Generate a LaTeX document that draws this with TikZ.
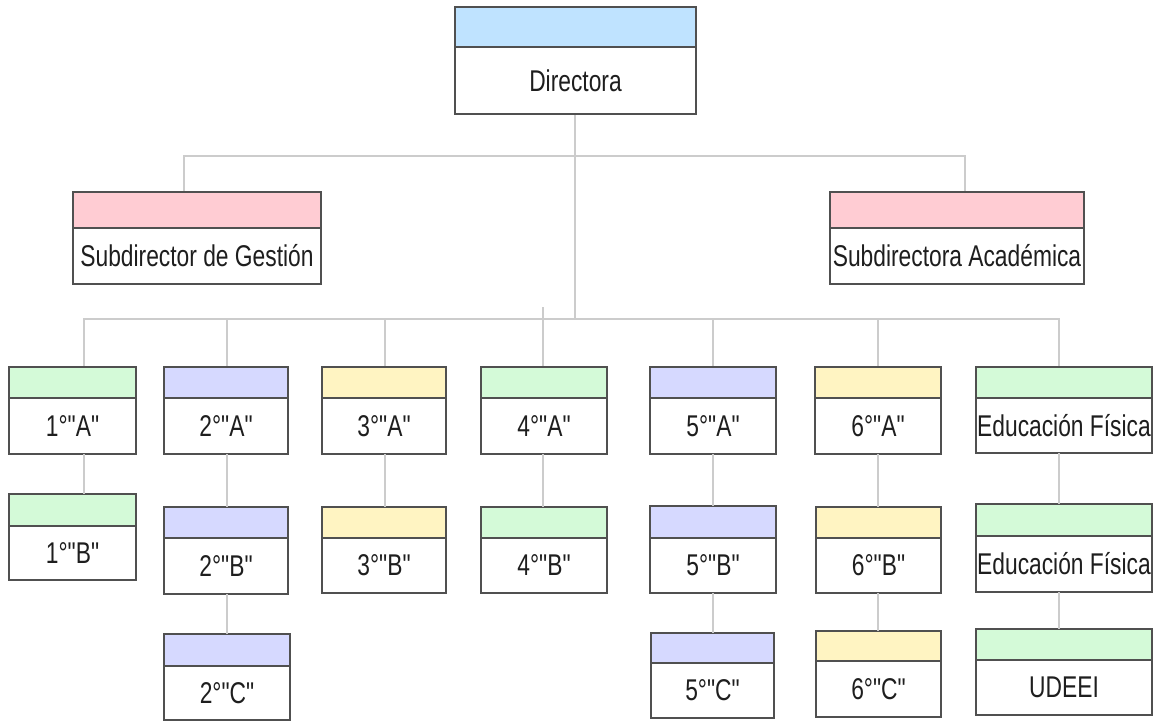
\documentclass[tikz,border=0pt]{standalone}
\usepackage{fontspec}
\setmainfont{Liberation Sans}[FakeStretch=0.76, Ligatures=TeXOff]
\definecolor{bord}{HTML}{505050}
\definecolor{connc}{HTML}{CCCCCC}
\definecolor{hblue}{HTML}{BFE3FF}
\definecolor{hpink}{HTML}{FFCCD3}
\definecolor{hgreen}{HTML}{D4FAD8}
\definecolor{hlav}{HTML}{D6D9FF}
\definecolor{hyel}{HTML}{FFF4C2}
\definecolor{txt}{HTML}{1E1E1E}
\tikzset{
  hdr/.style={draw=bord, line width=1.8pt, rectangle, inner sep=0pt, outer sep=0pt},
  bodybox/.style={draw=bord, line width=1.8pt, rectangle, fill=white, inner sep=0pt, outer sep=0pt,
    font=\fontsize{30}{35}\selectfont, text=txt},
  conn/.style={draw=connc, line width=2pt},
}
% name, x1, top, x2, header bottom, bottom, colour, text
\newcommand{\obox}[8]{%
  \node[hdr, fill=#7, minimum width=#4pt-#2pt, minimum height=#5pt-#3pt, anchor=north west] (#1h) at (#2,#3) {};
  \node[bodybox, minimum width=#4pt-#2pt, minimum height=#6pt-#5pt, anchor=north west] (#1) at (#2,#5) {#8};
}
\begin{document}
\begin{tikzpicture}[x=1pt,y=-1pt]
\useasboundingbox[fill=white] (0,0) rectangle (1153,722);

% coordinates for connector columns
\coordinate (j1) at (575,156);
\coordinate (j2) at (575,319);
\coordinate (x1) at (84,0);
\coordinate (x2) at (227,0);
\coordinate (x3) at (385,0);
\coordinate (x4) at (543,0);
\coordinate (x5) at (713,0);
\coordinate (x6) at (878,0);
\coordinate (x7) at (1059,0);
\coordinate (t4) at (543,307);

% connectors (drawn first, under the boxes)
\draw[conn] (575,114) coordinate (dsouth) -- (j2);
\draw[conn] (184,192) coordinate (sgtop) |- (j1) -| (965,192) coordinate (satop);
\draw[conn] (84,367) coordinate (c1top) |- (j2) -| (1059,367) coordinate (c7top);
\draw[conn] (227,319) -- (227,367);
\draw[conn] (385,319) -- (385,367);
\draw[conn] (t4) -- (543,367);
\draw[conn] (713,319) -- (713,367);
\draw[conn] (878,319) -- (878,367);

% boxes
\obox{dir}{455}{7}{696}{47}{114}{hblue}{Directora}
\obox{sg}{73}{192}{321}{228}{284}{hpink}{Subdirector de Gestión}
\obox{sa}{830}{192}{1084}{228}{284}{hpink}{Subdirectora Académica}

\obox{ca}{9}{367}{136}{398}{454}{hgreen}{1°"A"}
\obox{cb}{9}{494}{136}{526}{580}{hgreen}{1°"B"}

\obox{da}{164}{367}{288}{398}{454}{hlav}{2°"A"}
\obox{db}{164}{507}{288}{538}{594}{hlav}{2°"B"}
\obox{dc}{164}{634}{290}{666}{720}{hlav}{2°"C"}

\obox{ta}{322}{367}{446}{398}{454}{hyel}{3°"A"}
\obox{tb}{322}{507}{446}{538}{593}{hyel}{3°"B"}

\obox{qa}{481}{367}{607}{398}{454}{hgreen}{4°"A"}
\obox{qb}{481}{507}{607}{538}{593}{hgreen}{4°"B"}

\obox{fa}{650}{367}{776}{398}{454}{hlav}{5°"A"}
\obox{fb}{650}{506}{776}{538}{593}{hlav}{5°"B"}
\obox{fc}{651}{633}{774}{663}{718}{hlav}{5°"C"}

\obox{sxa}{815}{367}{941}{398}{454}{hyel}{6°"A"}
\obox{sxb}{816}{507}{941}{538}{593}{hyel}{6°"B"}
\obox{sxc}{816}{631}{941}{661}{717}{hyel}{6°"C"}

\obox{efa}{976}{367}{1152}{398}{453}{hgreen}{Educación Física}
\obox{efb}{976}{504}{1152}{536}{592}{hgreen}{Educación Física}
\obox{ud}{976}{629}{1152}{660}{715}{hgreen}{UDEEI}

% vertical connectors between stacked boxes
\draw[conn] (ca.south -| x1) -- (cbh.north -| x1);
\draw[conn] (da.south -| x2) -- (dbh.north -| x2);
\draw[conn] (db.south -| x2) -- (dch.north -| x2);
\draw[conn] (ta.south -| x3) -- (tbh.north -| x3);
\draw[conn] (qa.south -| x4) -- (qbh.north -| x4);
\draw[conn] (fa.south -| x5) -- (fbh.north -| x5);
\draw[conn] (fb.south -| x5) -- (fch.north -| x5);
\draw[conn] (sxa.south -| x6) -- (sxbh.north -| x6);
\draw[conn] (sxb.south -| x6) -- (sxch.north -| x6);
\draw[conn] (efa.south -| x7) -- (efbh.north -| x7);
\draw[conn] (efb.south -| x7) -- (udh.north -| x7);
\end{tikzpicture}
\end{document}
